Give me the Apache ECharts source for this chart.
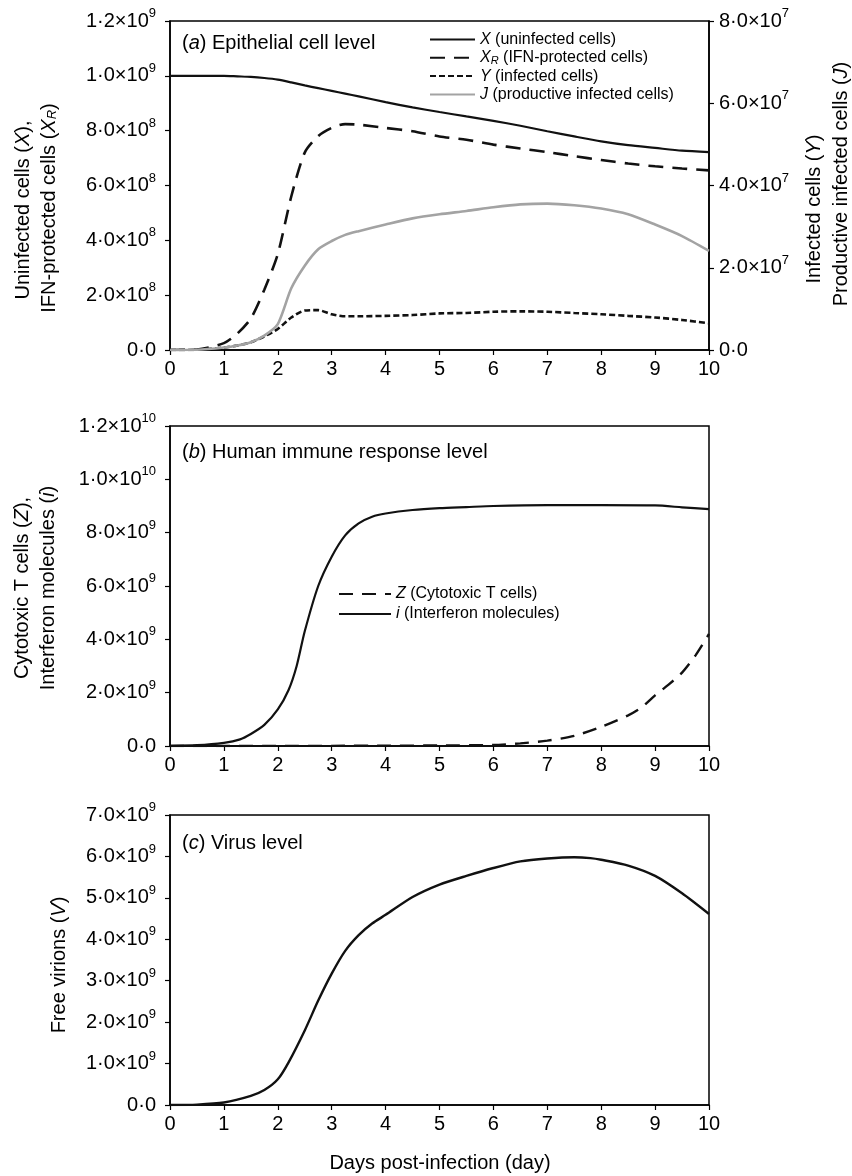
<!DOCTYPE html>
<html><head><meta charset="utf-8">
<script src="https://cdn.jsdelivr.net/npm/echarts@6/dist/echarts.min.js"></script>
<style>html,body{margin:0;padding:0;background:#fff}#c{width:852px;height:1176px}</style>
</head><body><div id="c"></div>
<script>
const FONT = "'Liberation Sans', Arial, sans-serif";

// ---------- Panel (a) ----------
const daysA = [0,0.5,1,1.25,1.5,1.75,2,2.25,2.5,2.75,3,3.25,3.5,4,4.5,5,5.5,6,6.5,7,7.5,8,8.5,9,9.5,10];
const uninfectedX = [1.000e9,1.000e9,1.000e9,0.998e9,0.996e9,0.992e9,0.986e9,0.976e9,0.965e9,0.955e9,0.945e9,0.935e9,0.925e9,0.904e9,0.885e9,0.868e9,0.852e9,0.836e9,0.818e9,0.798e9,0.779e9,0.761e9,0.747e9,0.737e9,0.727e9,0.722e9];
const protectedXR = [0,0.002e9,0.025e9,0.06e9,0.115e9,0.22e9,0.35e9,0.56e9,0.72e9,0.78e9,0.81e9,0.824e9,0.822e9,0.81e9,0.798e9,0.779e9,0.767e9,0.749e9,0.735e9,0.722e9,0.707e9,0.693e9,0.68e9,0.67e9,0.662e9,0.655e9];
const infectedY = [0,0.05e6,0.6e6,1.1e6,1.9e6,3.3e6,5.1e6,7.9e6,9.6e6,9.7e6,8.7e6,8.2e6,8.2e6,8.3e6,8.5e6,8.9e6,9.0e6,9.3e6,9.4e6,9.3e6,9.0e6,8.7e6,8.3e6,7.9e6,7.3e6,6.5e6];
const productiveJ = [0,0.05e6,0.6e6,1.1e6,1.9e6,3.5e6,6.3e6,15e6,20.5e6,24.5e6,26.5e6,28e6,28.9e6,30.5e6,32e6,33e6,33.8e6,34.7e6,35.4e6,35.6e6,35.2e6,34.4e6,33e6,30.5e6,27.7e6,24.1e6];

// ---------- Panel (b) ----------
const daysI = [0,0.5,1,1.3,1.5,1.75,2,2.2,2.35,2.5,2.75,3,3.25,3.5,3.75,4,4.5,5,5.5,6,7,8,9,9.5,10];
const interferonI = [0.01e9,0.03e9,0.12e9,0.25e9,0.45e9,0.79e9,1.37e9,2.1e9,3.0e9,4.3e9,6.0e9,7.1e9,7.9e9,8.35e9,8.6e9,8.72e9,8.85e9,8.92e9,8.96e9,9.0e9,9.03e9,9.03e9,9.02e9,8.95e9,8.88e9];
const daysZ = [0,1,2,3,4,5,6,6.5,7,7.5,8,8.5,8.75,9,9.25,9.5,9.75,10];
const cytotoxicZ = [0,0.002e9,0.004e9,0.006e9,0.01e9,0.02e9,0.04e9,0.1e9,0.2e9,0.38e9,0.72e9,1.15e9,1.45e9,1.9e9,2.3e9,2.75e9,3.4e9,4.2e9];

// ---------- Panel (c) ----------
const daysV = [0,0.5,1,1.5,1.75,2,2.2,2.5,2.75,3,3.25,3.5,3.75,4,4.5,5,5.5,6,6.5,7,7.5,7.8,8,8.5,9,9.5,10];
const virionsV = [0,0.01e9,0.06e9,0.22e9,0.36e9,0.62e9,1.03e9,1.8e9,2.52e9,3.17e9,3.72e9,4.1e9,4.38e9,4.59e9,5.02e9,5.32e9,5.53e9,5.72e9,5.88e9,5.95e9,5.98e9,5.96e9,5.92e9,5.78e9,5.53e9,5.11e9,4.61e9];

// ---------- Tick labels ----------
const xTickLabels = ['0','1','2','3','4','5','6','7','8','9','10'];
const aLeftTicks = ['0·0','2·0×10^8','4·0×10^8','6·0×10^8','8·0×10^8','1·0×10^9','1·2×10^9'];
const aRightTicks = ['0·0','2·0×10^7','4·0×10^7','6·0×10^7','8·0×10^7'];
const bTicks = ['0·0','2·0×10^9','4·0×10^9','6·0×10^9','8·0×10^9','1·0×10^10','1·2×10^10'];
const cTicks = ['0·0','1·0×10^9','2·0×10^9','3·0×10^9','4·0×10^9','5·0×10^9','6·0×10^9','7·0×10^9'];

// ---------- Texts ----------
const legendA = {
  'X': '{i|X} (uninfected cells)',
  'XR': '{i|X}{sub|R} (IFN-protected cells)',
  'Y': '{i|Y} (infected cells)',
  'J': '{i|J} (productive infected cells)'
};
const legendB = {
  'Z': '{i|Z} (Cytotoxic T cells)',
  'i': '{i|i} (Interferon molecules)'
};

function zip(xs, ys){ return xs.map((x,k)=>[x, ys[k]]); }
function tickFmt(arr){ return (v, idx) => { const s = arr[idx]; if (s === undefined) return ''; return s.replace(/\^(\d+)/, '{sup|$1}'); }; }

const FS = 20;
const supRich = { sup: { fontSize: 13, fontFamily: FONT, color: '#000', verticalAlign: 'top', lineHeight: 14 } };

function xAxisCfg(gi){
  return { gridIndex: gi, type: 'value', min: 0, max: 10, interval: 1,
    axisLine: { onZero: false, lineStyle: { color: '#000', width: 1.5 } },
    axisTick: { length: 5, lineStyle: { color: '#000', width: 1.2 } },
    axisLabel: { color: '#000', fontSize: FS, fontFamily: FONT, margin: 9, formatter: (v, i) => xTickLabels[i] },
    splitLine: { show: false } };
}
function yAxisCfg(gi, max, interval, labels, pos){
  return { gridIndex: gi, type: 'value', min: 0, max: max, interval: interval, position: pos || 'left',
    axisLine: { show: true, lineStyle: { color: '#000', width: 1.5 } },
    axisTick: { show: true, length: 5, lineStyle: { color: '#000', width: 1.2 } },
    axisLabel: { color: '#000', fontSize: FS, fontFamily: FONT, lineHeight: 28, margin: pos === 'right' ? 10 : 14, formatter: tickFmt(labels), rich: supRich },
    splitLine: { show: false } };
}

const legendRich = {
  i: { fontStyle: 'italic', fontSize: 16, fontFamily: FONT, color: '#000' },
  sub: { fontStyle: 'italic', fontSize: 11, fontFamily: FONT, color: '#000', verticalAlign: 'bottom' }
};

const richT = {
  i: { fontStyle: 'italic', fontSize: FS, fontFamily: FONT, fill: '#000' },
  sub: { fontStyle: 'italic', fontSize: 13, fontFamily: FONT, fill: '#000', verticalAlign: 'bottom' }
};
function gText(x, y, text, rot, align){
  return { type: 'text', x: x, y: y, rotation: rot || 0,
    style: { text: text, fontSize: FS, fontFamily: FONT, fill: '#000', align: align || 'center', verticalAlign: 'middle', rich: richT } };
}

const legendBase = { orient: 'vertical', padding: 0, selectedMode: false,
  itemStyle: { color: 'rgba(0,0,0,0)', borderColor: 'rgba(0,0,0,0)', borderWidth: 0 } };

const chart = echarts.init(document.getElementById('c'), null, { renderer: 'canvas' });
const R = Math.PI / 2;
const SM = 0.25;
chart.setOption({
  backgroundColor: '#fff',
  animation: false,
  grid: [
    { left: 170, top: 21, width: 539, height: 329, show: true, borderColor: '#000', borderWidth: 1.5 },
    { left: 170, top: 426, width: 539, height: 320, show: true, borderColor: '#000', borderWidth: 1.5 },
    { left: 170, top: 815, width: 539, height: 290, show: true, borderColor: '#000', borderWidth: 1.5 }
  ],
  xAxis: [ xAxisCfg(0), xAxisCfg(1), xAxisCfg(2) ],
  yAxis: [
    yAxisCfg(0, 1.2e9, 2e8, aLeftTicks),
    yAxisCfg(0, 8e7, 2e7, aRightTicks, 'right'),
    yAxisCfg(1, 1.2e10, 2e9, bTicks),
    yAxisCfg(2, 7e9, 1e9, cTicks)
  ],
  legend: [
    Object.assign({}, legendBase, { data: ['X','XR','Y','J'], left: 429, top: 31, itemWidth: 45, itemHeight: 12, itemGap: 1.3,
      formatter: n => legendA[n],
      textStyle: { fontSize: 16, fontFamily: FONT, color: '#000', lineHeight: 17, rich: legendRich } }),
    Object.assign({}, legendBase, { data: ['Z','i'], left: 338, top: 585, itemWidth: 52, itemHeight: 12, itemGap: 2,
      formatter: n => legendB[n],
      textStyle: { fontSize: 16, fontFamily: FONT, color: '#000', lineHeight: 18, rich: legendRich } })
  ],
  series: [
    { name: 'X', type: 'line', xAxisIndex: 0, yAxisIndex: 0, data: zip(daysA, uninfectedX), symbol: 'none', smooth: SM,
      lineStyle: { color: '#111', width: 2.2 } },
    { name: 'XR', type: 'line', xAxisIndex: 0, yAxisIndex: 0, data: zip(daysA, protectedXR), symbol: 'none', smooth: SM,
      lineStyle: { color: '#111', width: 2.6, type: [15, 9] } },
    { name: 'Y', type: 'line', xAxisIndex: 0, yAxisIndex: 1, data: zip(daysA, infectedY), symbol: 'none', smooth: SM,
      lineStyle: { color: '#111', width: 2.6, type: [6, 3] } },
    { name: 'J', type: 'line', xAxisIndex: 0, yAxisIndex: 1, data: zip(daysA, productiveJ), symbol: 'none', smooth: SM,
      lineStyle: { color: '#a3a3a3', width: 2.6 } },
    { name: 'Z', type: 'line', xAxisIndex: 1, yAxisIndex: 2, data: zip(daysZ, cytotoxicZ), symbol: 'none', smooth: SM,
      lineStyle: { color: '#111', width: 2.4, type: [14, 9] } },
    { name: 'i', type: 'line', xAxisIndex: 1, yAxisIndex: 2, data: zip(daysI, interferonI), symbol: 'none', smooth: SM,
      lineStyle: { color: '#111', width: 2.2 } },
    { name: 'V', type: 'line', xAxisIndex: 2, yAxisIndex: 3, data: zip(daysV, virionsV), symbol: 'none', smooth: SM,
      lineStyle: { color: '#111', width: 2.4 } }
  ],
  graphic: [
    gText(182, 43, '({i|a}) Epithelial cell level', 0, 'left'),
    gText(182, 452, '({i|b}) Human immune response level', 0, 'left'),
    gText(182, 843, '({i|c}) Virus level', 0, 'left'),
    gText(23, 210, 'Uninfected cells ({i|X}),', R),
    gText(49, 208, 'IFN-protected cells ({i|X}{sub|R})', R),
    gText(814, 209, 'Infected cells ({i|Y})', R),
    gText(841, 184, 'Productive infected cells ({i|J})', R),
    gText(22, 588, 'Cytotoxic T cells ({i|Z}),', R),
    gText(48, 588, 'Interferon molecules ({i|i})', R),
    gText(59, 965, 'Free virions ({i|V})', R),
    gText(440, 1163, 'Days post-infection (day)', 0)
  ]
});
</script>
</body></html>
